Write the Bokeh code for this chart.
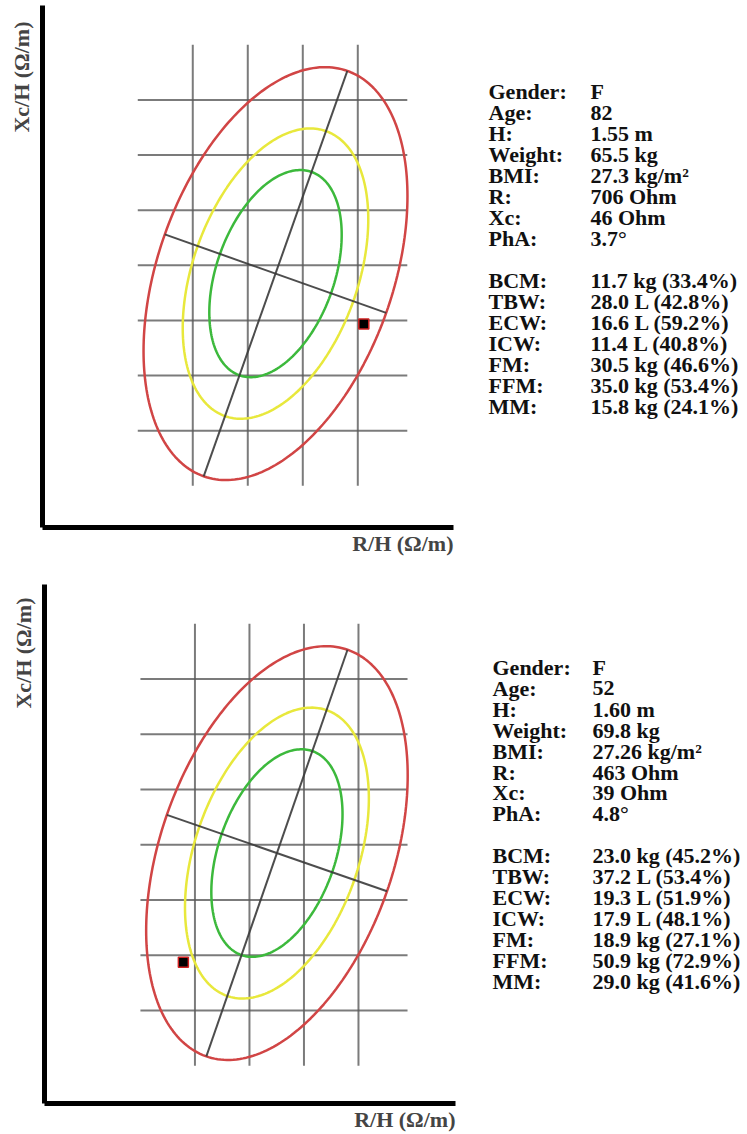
import numpy as np
from bokeh.plotting import figure
from bokeh.layouts import column, row
from bokeh.models import ColumnDataSource, Title, Range1d, FixedTicker
from bokeh.core.properties import value
from bokeh.embed import file_html
from bokeh.resources import INLINE

# ---------------- data ----------------
# reference population (R/H, Xc/H in ohm/m)
ref_mean_rh = 375.2
ref_mean_xch = 34.25
ref_sd_rh = 49.0
ref_sd_xch = 7.65
ref_corr = 0.375
# tolerance ellipses: percentile and Mahalanobis radius
ellipse_levels = ["50%", "75%", "95%"]
ellipse_radius = [1.228, 1.721, 2.448]
ellipse_colors = ["#3cb93c", "#e8e83c", "#d14545"]

grid_rh = [300, 350, 400, 450]
grid_xch = [20, 25, 30, 35, 40, 45, 50]
grid_rh_extent = [250, 495]
grid_xch_extent = [15, 55]

labels = ["Gender:", "Age:", "H:", "Weight:", "BMI:", "R:", "Xc:", "PhA:",
          "BCM:", "TBW:", "ECW:", "ICW:", "FM:", "FFM:", "MM:"]
row_index = [0, 1, 2, 3, 4, 5, 6, 7, 9, 10, 11, 12, 13, 14, 15]

# subject 1
s1_height_m = 1.55
s1_R = 706
s1_Xc = 46
s1_values = ["F", "82", "1.55 m", "65.5 kg", "27.3 kg/m\u00b2", "706 Ohm", "46 Ohm", "3.7\u00b0",
             "11.7 kg (33.4%)", "28.0 L (42.8%)", "16.6 L (59.2%)", "11.4 L (40.8%)",
             "30.5 kg (46.6%)", "35.0 kg (53.4%)", "15.8 kg (24.1%)"]
# subject 2
s2_height_m = 1.60
s2_R = 463
s2_Xc = 39
s2_values = ["F", "52", "1.60 m", "69.8 kg", "27.26 kg/m\u00b2", "463 Ohm", "39 Ohm", "4.8\u00b0",
             "23.0 kg (45.2%)", "37.2 L (53.4%)", "19.3 L (51.9%)", "17.9 L (48.1%)",
             "18.9 kg (27.1%)", "50.9 kg (72.9%)", "29.0 kg (41.6%)"]

FONT = "Liberation Serif"
FSIZE = "22px"
ROW_H = 567
CHART_W = 460
TEXT_W = 747 - CHART_W


def chart(R, Xc, H, xr, yr, bl, br, bt, bb, ylab_offset):
    p = figure(width=CHART_W, height=ROW_H, output_backend="svg", toolbar_location=None,
               x_range=Range1d(*xr), y_range=Range1d(*yr),
               min_border_left=bl, min_border_right=br, min_border_top=bt, min_border_bottom=bb)
    p.title.visible = False
    p.grid.visible = False
    p.outline_line_color = None
    p.background_fill_color = "white"
    for ax in (p.xaxis[0], p.yaxis[0]):
        ax.ticker = FixedTicker(ticks=[])
        ax.axis_line_width = 5
        ax.axis_line_color = "black"
        ax.major_tick_line_color = None
        ax.minor_tick_line_color = None
        ax.major_label_standoff = 0
        ax.major_tick_out = 0
        ax.major_tick_in = 0
    # grid
    p.multi_line(xs=[[g, g] for g in grid_rh], ys=[grid_xch_extent for _ in grid_rh],
                 line_color="#5a5a5a", line_width=2, line_alpha=0.8)
    p.multi_line(xs=[grid_rh_extent for _ in grid_xch], ys=[[g, g] for g in grid_xch],
                 line_color="#5a5a5a", line_width=2, line_alpha=0.8)
    # ellipses
    t = np.linspace(0, 2 * np.pi, 241)
    for k, c in zip(ellipse_radius, ellipse_colors):
        ex = ref_mean_rh + k * ref_sd_rh * np.cos(t)
        ey = ref_mean_xch + k * ref_sd_xch * (ref_corr * np.cos(t) + np.sqrt(1 - ref_corr ** 2) * np.sin(t))
        p.line(ex, ey, line_color=c, line_width=2.5)
    # principal axes of 95% ellipse, as seen on screen
    fw = CHART_W - bl - br
    fh = ROW_H - bt - bb
    ppx = fw / (xr[1] - xr[0])
    ppy = fh / (yr[1] - yr[0])
    sx, sy = ref_sd_rh * ppx, ref_sd_xch * ppy
    cov = np.array([[sx * sx, ref_corr * sx * sy], [ref_corr * sx * sy, sy * sy]])
    w, v = np.linalg.eigh(cov)
    k95 = ellipse_radius[-1]
    axes_x, axes_y = [], []
    for i in range(2):
        d = k95 * np.sqrt(w[i]) * v[:, i]
        axes_x.append([ref_mean_rh - d[0] / ppx, ref_mean_rh + d[0] / ppx])
        axes_y.append([ref_mean_xch - d[1] / ppy, ref_mean_xch + d[1] / ppy])
    p.multi_line(xs=axes_x, ys=axes_y, line_color="#3a3a3a", line_width=2, line_alpha=0.9)
    # subject point
    p.scatter([R / H], [Xc / H], marker="square", size=10, fill_color="black",
              line_color="#d02020", line_width=1.5)
    # axis titles
    yt = Title(text="Xc/H (\u03a9/m)", align="right", vertical_align="top",
               text_font=FONT, text_font_size=FSIZE,
               text_font_style="bold", standoff=14, offset=ylab_offset)
    p.add_layout(yt, "left")
    xt = Title(text="R/H (\u03a9/m)", align="right", text_font=FONT, text_font_size=FSIZE,
               text_font_style="bold", standoff=2)
    p.add_layout(xt, "below")
    return p


def info(values, x_label, x_value, y_first, pitch, bt, bb):
    top = -(y_first - bt) / pitch
    bottom = (ROW_H - bb - y_first) / pitch
    p = figure(width=TEXT_W, height=ROW_H, output_backend="svg", toolbar_location=None,
               x_range=Range1d(0, TEXT_W), y_range=Range1d(bottom, top),
               x_axis_location=None, y_axis_location=None,
               min_border_left=0, min_border_right=0,
               min_border_top=bt, min_border_bottom=bb)
    p.title.visible = False
    p.grid.visible = False
    p.outline_line_color = None
    src = ColumnDataSource(dict(lab=labels, val=values, r=row_index,
                                xl=[x_label] * len(labels), xv=[x_value] * len(labels)))
    kw = dict(text_font=value(FONT), text_font_size=FSIZE, text_font_style="bold",
              text_baseline="middle", text_align="left", text_color="#111111")
    p.text(x="xl", y="r", text="lab", source=src, **kw)
    p.text(x="xv", y="r", text="val", source=src, **kw)
    return p


c1 = chart(s1_R, s1_Xc, s1_height_m, (163.4, 537.0), (11.22, 58.57), 42, 7, 5, 40, 16)
t1 = info(s1_values, 28, 130, 91, 21.0, 5, 40)
c2 = chart(s2_R, s2_Xc, s2_height_m, (162.0, 539.0), (11.58, 58.56), 44, 5, 17, 31, 13)
t2 = info(s2_values, 32, 132, 100, 20.9, 17, 31)

layout = column(row(c1, t1), row(c2, t2))
open("out.html", "w").write(file_html(layout, INLINE))
